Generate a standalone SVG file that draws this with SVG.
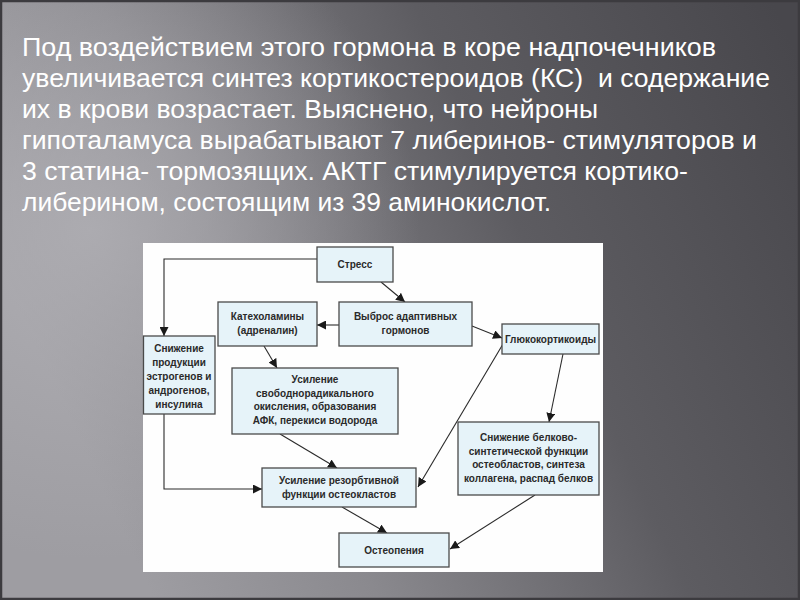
<svg xmlns="http://www.w3.org/2000/svg" width="800" height="600" viewBox="0 0 800 600">
<defs>
  <linearGradient id="bg" x1="0" y1="0.45" x2="1" y2="0.1">
    <stop offset="0" stop-color="#9e9da2"/>
    <stop offset="0.25" stop-color="#8a898e"/>
    <stop offset="0.6" stop-color="#5d5c61"/>
    <stop offset="1" stop-color="#48474c"/>
  </linearGradient>
  <radialGradient id="glow" cx="90" cy="230" r="330" gradientUnits="userSpaceOnUse">
    <stop offset="0" stop-color="#b4b3b8" stop-opacity="0.75"/>
    <stop offset="1" stop-color="#b4b3b8" stop-opacity="0"/>
  </radialGradient>
  <marker id="ah" viewBox="0 0 10 10" refX="10" refY="5" markerWidth="9" markerHeight="9" markerUnits="userSpaceOnUse" orient="auto">
    <path d="M0,0 L10,5 L0,10 z" fill="#1a1a1a"/>
  </marker>
  <style>
    .title { font-family: "Liberation Sans", Arial, sans-serif; font-size: 25px; fill: #ffffff; }
    .box { fill: #e6f3f9; stroke: #4a4a4a; stroke-width: 1.3; }
    .lbl { font-family: "Liberation Sans", Arial, sans-serif; font-size: 10px; font-weight: bold; fill: #2a2a2a; text-anchor: middle; }
    .con { fill: none; stroke: #2a2a2a; stroke-width: 1.1; marker-end: url(#ah); }
  </style>
</defs>
<rect x="0" y="0" width="800" height="600" fill="url(#bg)"/>
<rect x="0" y="0" width="800" height="600" fill="url(#glow)"/>
<rect x="1" y="1" width="798" height="598" fill="none" stroke="#3c3b3f" stroke-width="2.5"/>

<g id="title-text" class="title">
  <text x="22" y="56" textLength="694" lengthAdjust="spacingAndGlyphs">Под воздействием этого гормона в коре надпочечников</text>
  <text x="22" y="87" textLength="748" lengthAdjust="spacingAndGlyphs" xml:space="preserve">увеличивается синтез кортикостероидов (КС)  и содержание</text>
  <text x="22" y="118" textLength="576" lengthAdjust="spacingAndGlyphs">их в крови возрастает. Выяснено, что нейроны</text>
  <text x="22" y="149" textLength="735" lengthAdjust="spacingAndGlyphs">гипоталамуса вырабатывают 7 либеринов- стимуляторов и</text>
  <text x="22" y="180" textLength="666" lengthAdjust="spacingAndGlyphs">3 статина- тормозящих. АКТГ стимулируется кортико-</text>
  <text x="22" y="211" textLength="529" lengthAdjust="spacingAndGlyphs">либерином, состоящим из 39 аминокислот.</text>
</g>

<rect id="panel" x="143" y="243" width="460" height="329" fill="#fefefe"/>

<g id="connectors">
  <polyline class="con" points="317,259 164,259 164,336"/>
  <line class="con" x1="381" y1="282" x2="405" y2="302"/>
  <line class="con" x1="339" y1="325" x2="317" y2="325"/>
  <line class="con" x1="472" y1="326" x2="502" y2="338"/>
  <line class="con" x1="264" y1="346" x2="277" y2="368"/>
  <line class="con" x1="563" y1="354" x2="549" y2="422"/>
  <line class="con" x1="503" y1="344" x2="418" y2="487"/>
  <polyline class="con" points="164,414 164,489 262,489"/>
  <line class="con" x1="280" y1="434" x2="337" y2="468"/>
  <line class="con" x1="342" y1="507" x2="387" y2="533"/>
  <line class="con" x1="535" y1="495" x2="450" y2="549"/>
</g>

<g id="stress">
  <rect class="box" x="317" y="247" width="76" height="35"/>
  <text class="lbl" x="355" y="268">Стресс</text>
</g>
<g id="catecholamines">
  <rect class="box" x="218" y="302" width="99" height="44"/>
  <text class="lbl" x="267.5" y="320">Катехоламины</text>
  <text class="lbl" x="267.5" y="334">(адреналин)</text>
</g>
<g id="release">
  <rect class="box" x="339" y="302" width="133" height="44"/>
  <text class="lbl" x="405.5" y="320">Выброс адаптивных</text>
  <text class="lbl" x="405.5" y="334">гормонов</text>
</g>
<g id="glucocorticoids">
  <rect class="box" x="502" y="324" width="97" height="30"/>
  <text class="lbl" x="550.5" y="342.5">Глюкокортикоиды</text>
</g>
<g id="hormone-decrease">
  <rect class="box" x="143.5" y="336" width="71.5" height="78"/>
  <text class="lbl" x="179" y="351.5">Снижение</text>
  <text class="lbl" x="179" y="365.5">продукции</text>
  <text class="lbl" x="179" y="379.5">эстрогенов и</text>
  <text class="lbl" x="179" y="393.5">андрогенов,</text>
  <text class="lbl" x="179" y="407.5">инсулина</text>
</g>
<g id="free-radical">
  <rect class="box" x="232" y="368" width="166" height="66"/>
  <text class="lbl" x="315" y="383">Усиление</text>
  <text class="lbl" x="315" y="396.5">свободнорадикального</text>
  <text class="lbl" x="315" y="410">окисления, образования</text>
  <text class="lbl" x="315" y="423.5">АФК, перекиси водорода</text>
</g>
<g id="resorption">
  <rect class="box" x="262" y="468" width="154" height="39"/>
  <text class="lbl" x="339" y="484">Усиление резорбтивной</text>
  <text class="lbl" x="339" y="498">функции остеокластов</text>
</g>
<g id="osteoblast-decrease">
  <rect class="box" x="458" y="422" width="141" height="73"/>
  <text class="lbl" x="528.5" y="441">Снижение белково-</text>
  <text class="lbl" x="528.5" y="454.5">синтетической функции</text>
  <text class="lbl" x="528.5" y="468">остеобластов, синтеза</text>
  <text class="lbl" x="528.5" y="481.5">коллагена, распад белков</text>
</g>
<g id="osteopenia">
  <rect class="box" x="339" y="533" width="110" height="34"/>
  <text class="lbl" x="394" y="553.5">Остеопения</text>
</g>
</svg>
